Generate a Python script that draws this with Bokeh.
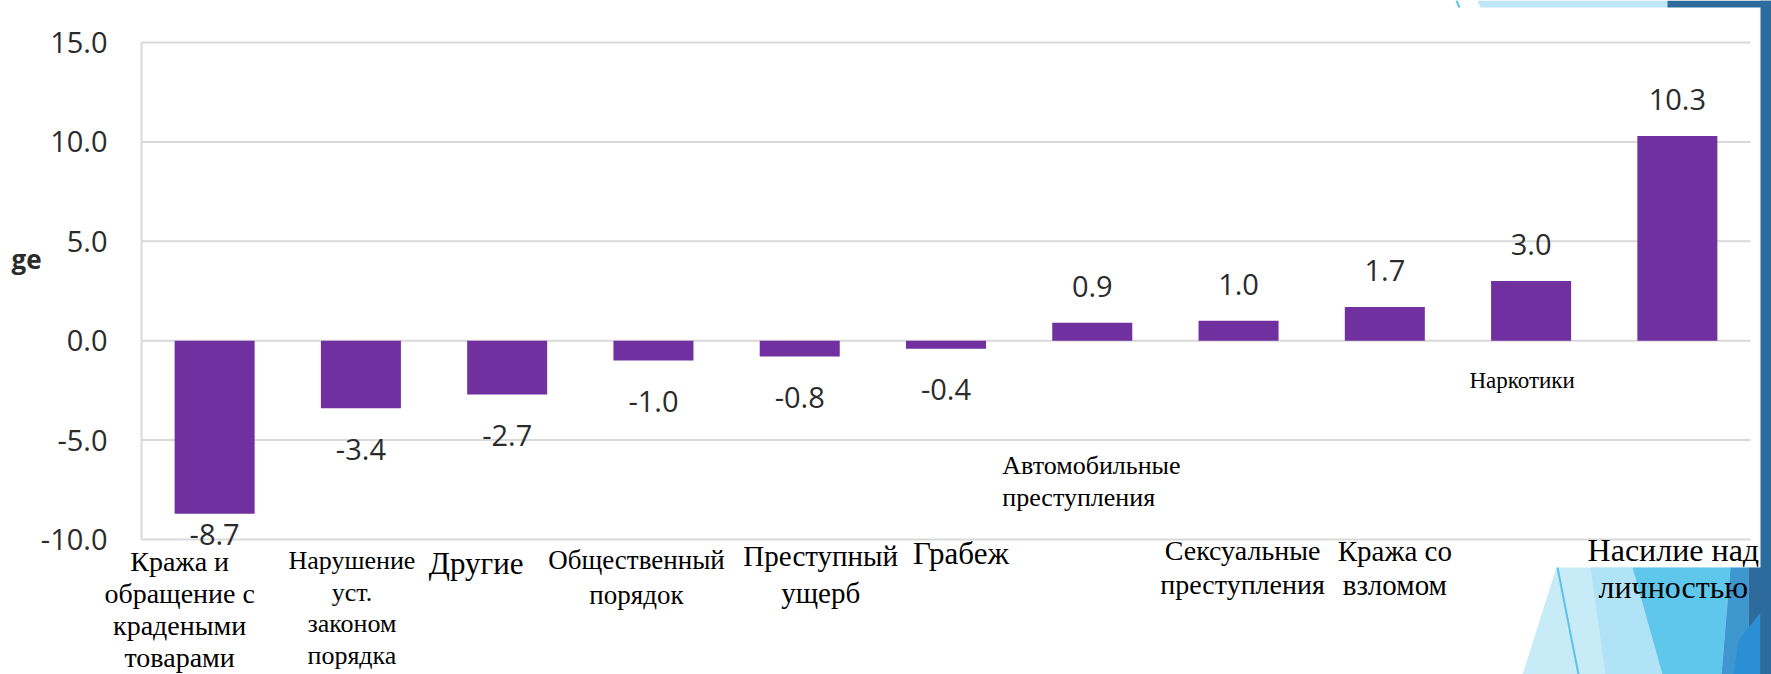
from bokeh.plotting import figure
from bokeh.models import Range1d, FixedTicker, NumeralTickFormatter, Label
from bokeh.embed import file_html
from bokeh.resources import INLINE
from bokeh.core.properties import value

# ---------------- data ----------------
categories = [
    "Кража и\nобращение с\nкрадеными\nтоварами",
    "Нарушение\nуст.\nзаконом\nпорядка",
    "Другие",
    "Общественный\nпорядок",
    "Преступный\nущерб",
    "Грабеж",
    "Автомобильные\nпреступления",
    "Сексуальные\nпреступления",
    "Кража со\nвзломом",
    "Наркотики",
    "Насилие над\nличностью",
]
changes = [-8.7, -3.4, -2.7, -1.0, -0.8, -0.4, 0.9, 1.0, 1.7, 3.0, 10.3]
y_ticks = [-10, -5, 0, 5, 10, 15]
y_title_visible = "ge"

# ---------------- layout (pixels) ----------------
W, H = 1771, 674
PLOT_L, PLOT_R = 141, 1750    # category band edges
Y_TOP_PX, Y_BOT_PX = 42, 539  # pixel rows of 15 and -10
Y_MAX, Y_MIN = 15, -10
CAT_W = (PLOT_R - PLOT_L) / len(categories)
PX_Y = (Y_BOT_PX - Y_TOP_PX) / (Y_MAX - Y_MIN)


def rx(px):
    return (px - PLOT_L) / CAT_W


def ry(py):
    return Y_MAX - (py - Y_TOP_PX) / PX_Y


# (dx px from bar centre, first line y px, line step px, font px, align)
label_layout = [
    (-35, 561, 32, 28, "center"),
    (-9, 560, 31.5, 26, "center"),
    (-31, 563, 0, 31, "center"),
    (-17, 559, 35, 27, "center"),
    (21, 555, 37, 29, "center"),
    (15, 553, 0, 31, "center"),
    (-90, 465, 32, 26, "left"),
    (4, 550, 34, 28, "center"),
    (10, 550, 34, 29, "center"),
    (-9, 380, 0, 23, "center"),
    (-4, 549, 37, 32, "center"),
]

BAR_COLOR = "#7030A0"
GRID_COLOR = "#D9D9D9"
NUM_FONT = "Open Sans"
NUM_COLOR = "#2B2B2B"
SERIF = "Liberation Serif"

p = figure(width=W, height=H,
           x_range=Range1d(rx(0), rx(W)), y_range=Range1d(ry(H), ry(0)),
           output_backend="svg", toolbar_location=None,
           x_axis_location=None, y_axis_location="left",
           min_border_left=0, min_border_right=0,
           min_border_top=0, min_border_bottom=0)
p.outline_line_color = None
p.background_fill_color = "white"
p.border_fill_color = "white"
p.xgrid.visible = False
p.ygrid.visible = False

ax = p.yaxis[0]
ax.fixed_location = 0
ax.ticker = FixedTicker(ticks=y_ticks)
ax.formatter = NumeralTickFormatter(format="0.0")
ax.bounds = (Y_MIN, Y_MAX)
ax.axis_line_color = GRID_COLOR
ax.axis_line_width = 2
ax.major_tick_line_color = None
ax.minor_tick_line_color = None
ax.major_tick_in = 0
ax.major_tick_out = 0
ax.major_label_standoff = 34
ax.major_label_text_font = NUM_FONT
ax.major_label_text_font_size = "29px"
ax.major_label_text_color = NUM_COLOR

# horizontal gridlines across the category band
n = len(categories)
p.segment(x0=[0] * len(y_ticks), x1=[n] * len(y_ticks), y0=y_ticks, y1=y_ticks,
          line_color=GRID_COLOR, line_width=2, level="underlay")

# bars
xs = [i + 0.5 for i in range(n)]
p.vbar(x=xs, top=changes, bottom=0, width=0.547, fill_color=BAR_COLOR, line_color=None)

# value labels
lab_y = [v + 1.83 if v >= 0 else max(v - 2.07, Y_MIN + 0.25) for v in changes]
p.text(x=xs, y=lab_y, text=[f"{v:.1f}" for v in changes],
       text_align="center", text_baseline="middle",
       text_font=value(NUM_FONT), text_font_size="29px", text_color=NUM_COLOR)

# decorative slide shapes (right edge / bottom right)
deco = [
    ("#C8EBF8", [(1522, 674), (1556, 567), (1771, 567), (1771, 674)]),
    ("#B0E3F5", [(1590, 567), (1632, 567), (1662, 674), (1605, 674)]),
    ("#60C7EC", [(1632, 567), (1730, 567), (1721, 674), (1662, 674)]),
    ("#3F97D0", [(1730, 567), (1748, 567), (1748, 674), (1721, 674)]),
    ("#2D6B9C", [(1748, 567), (1771, 567), (1771, 674), (1748, 674)]),
    ("#2B8FD6", [(1738, 640), (1760, 612), (1760, 674), (1733, 674)]),
    ("#2D6B9C", [(1760, 0), (1771, 0), (1771, 674), (1760, 674)]),
    ("#BDE6F7", [(1477, 0), (1667, 0), (1667, 7), (1480, 7)]),
    ("#2D6B9C", [(1667, 0), (1771, 0), (1771, 7), (1667, 7)]),
]
p.patches(xs=[[rx(a) for a, b in pts] for c, pts in deco],
          ys=[[ry(b) for a, b in pts] for c, pts in deco],
          fill_color=[c for c, pts in deco], line_color=None)
p.segment(x0=[rx(1557), rx(1456)], y0=[ry(567), ry(0)], x1=[rx(1578), rx(1459)], y1=[ry(674), ry(7)],
          line_color="#5BC3E9", line_width=2)

# category labels (slide text boxes)
for i, (name, (dx, y0, step, fs, align)) in enumerate(zip(categories, label_layout)):
    lines = name.split("\n")
    cx = xs[i] + dx / CAT_W
    p.text(x=[cx] * len(lines), y=[ry(y0 + k * step) for k in range(len(lines))],
           text=lines, text_align=align, text_baseline="middle",
           text_font=value(SERIF), text_font_size=f"{fs}px", text_color="black")

p.add_layout(Label(x=rx(11), y=ry(258), text=y_title_visible, text_align="left",
                   text_baseline="middle", text_font=NUM_FONT, text_font_style="bold",
                   text_font_size="26px", text_color=NUM_COLOR))

with open("out.html", "w", encoding="utf-8") as f:
    f.write(file_html(p, INLINE))
